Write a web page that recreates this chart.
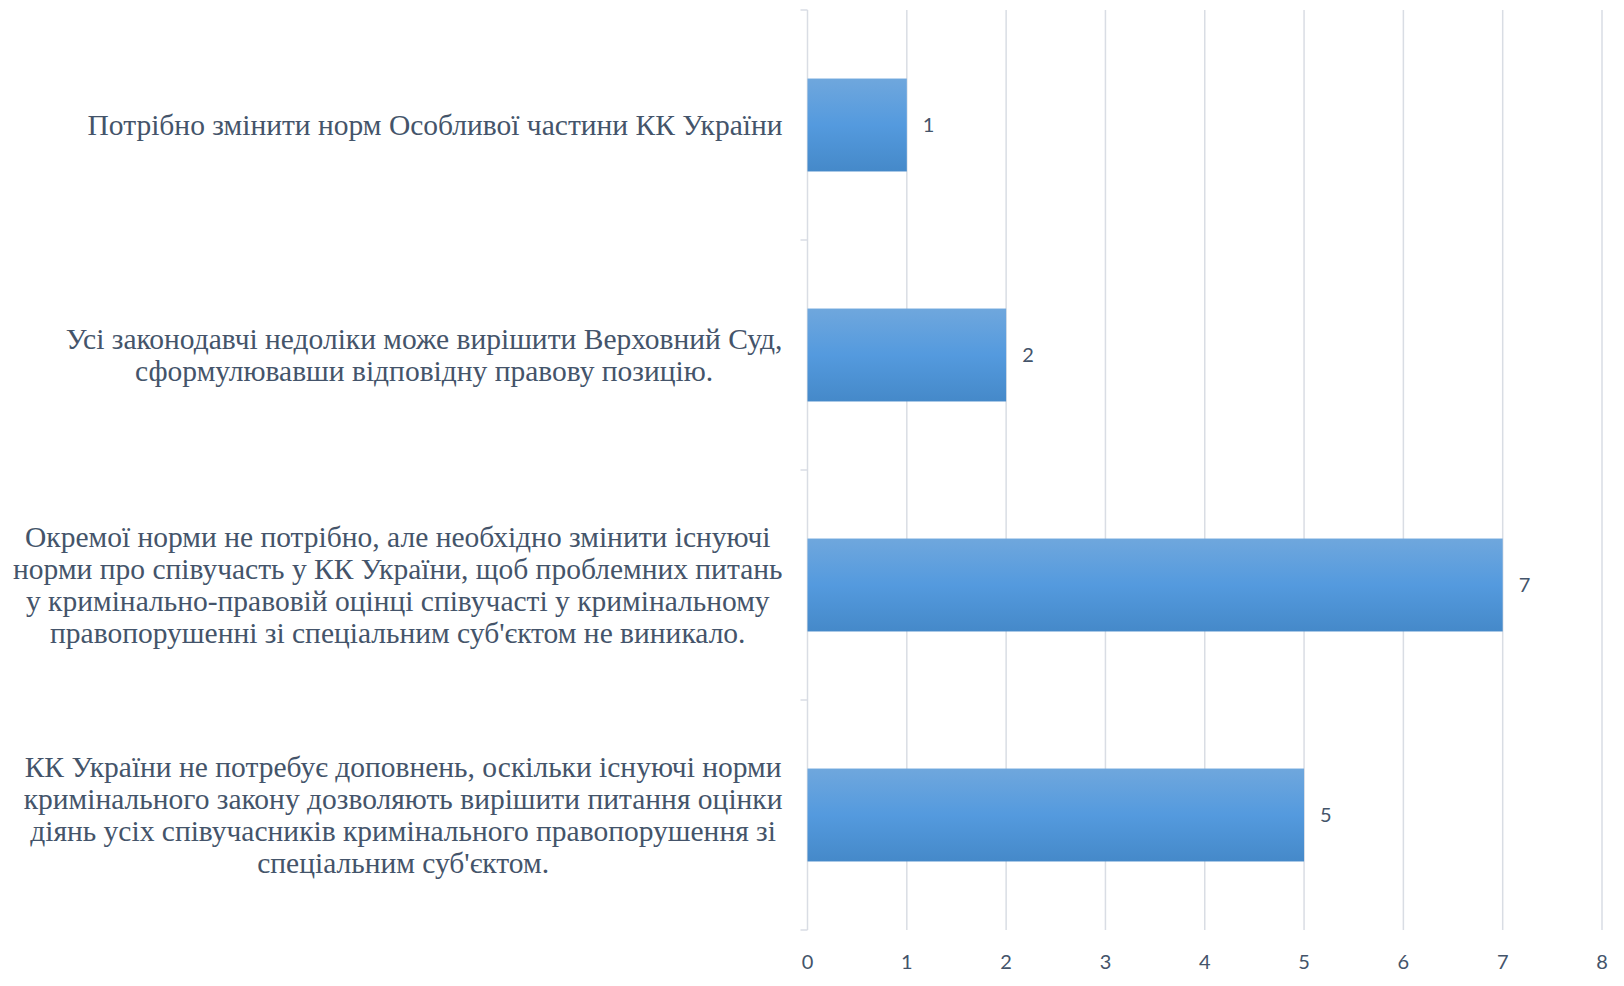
<!DOCTYPE html>
<meta charset="utf-8" />
<script src="https://d3js.org/d3.v7.js"></script>
<style>
  body { margin: 0; background: #fff; }
</style>
<div id="chart"></div>
<script>
  // categories, top to bottom, with the line breaks used in the picture
  const categories = [
    ["Потрібно змінити норм Особливої частини КК України"],
    ["Усі законодавчі недоліки може вирішити Верховний Суд,",
     "сформулювавши відповідну правову позицію."],
    ["Окремої норми не потрібно, але необхідно змінити існуючі",
     "норми про співучасть у КК України, щоб проблемних питань",
     "у кримінально-правовій оцінці співучасті у кримінальному",
     "правопорушенні зі спеціальним суб'єктом не виникало."],
    ["КК України не потребує доповнень, оскільки існуючі норми",
     "кримінального закону дозволяють вирішити питання оцінки",
     "діянь усіх співучасників кримінального правопорушення зі",
     "спеціальним суб'єктом."]
  ];
  const values = [1, 2, 7, 5];
  const xTicks = [0, 1, 2, 3, 4, 5, 6, 7, 8];

  const width = 1624;
  const height = 986;
  const margin = { top: 10, right: 22, bottom: 56, left: 807.5 };

  const svg = d3
    .select("#chart")
    .append("svg")
    .attr("width", width)
    .attr("height", height);

  // bar gradient, lighter at the top
  const grad = svg
    .append("defs")
    .append("linearGradient")
    .attr("id", "barGrad")
    .attr("x1", 0).attr("y1", 0)
    .attr("x2", 0).attr("y2", 1);
  grad.append("stop").attr("offset", "0%").attr("stop-color", "#6fa7dd");
  grad.append("stop").attr("offset", "50%").attr("stop-color", "#549ade");
  grad.append("stop").attr("offset", "100%").attr("stop-color", "#4589c9");

  const x = d3
    .scaleLinear()
    .domain([0, 8])
    .range([margin.left, width - margin.right]);

  const y = d3
    .scaleBand()
    .domain(d3.range(categories.length))
    .range([margin.top, height - margin.bottom])
    .paddingInner(0.596)
    .paddingOuter(0.298);

  const yTicks = d3
    .scaleBand()
    .domain(d3.range(categories.length))
    .range([margin.top, height - margin.bottom]);

  const gridColor = "#d9dde4";
  const textColor = "#44546a";

  // vertical gridlines
  svg
    .append("g")
    .selectAll("line")
    .data(xTicks)
    .join("line")
    .attr("x1", (d) => x(d))
    .attr("x2", (d) => x(d))
    .attr("y1", margin.top)
    .attr("y2", height - margin.bottom)
    .attr("stroke", gridColor)
    .attr("stroke-width", 1.5);

  // category axis tick marks
  const tickPos = d3.range(categories.length).map((i) => yTicks(i));
  tickPos.push(height - margin.bottom);
  svg
    .append("g")
    .selectAll("line")
    .data(tickPos)
    .join("line")
    .attr("x1", margin.left - 7)
    .attr("x2", margin.left)
    .attr("y1", (d) => d)
    .attr("y2", (d) => d)
    .attr("stroke", gridColor)
    .attr("stroke-width", 1.5);

  // bars
  svg
    .append("g")
    .selectAll("rect")
    .data(values)
    .join("rect")
    .attr("x", x(0))
    .attr("y", (d, i) => y(i))
    .attr("width", (d) => x(d) - x(0))
    .attr("height", y.bandwidth())
    .attr("fill", "url(#barGrad)");

  // data labels
  svg
    .append("g")
    .selectAll("text")
    .data(values)
    .join("text")
    .attr("x", (d) => x(d) + 16)
    .attr("y", (d, i) => y(i) + y.bandwidth() / 2)
    .attr("dy", "0.35em")
    .style("font-family", "Lato, 'Open Sans', sans-serif")
    .style("font-size", "20px")
    .style("fill", textColor)
    .text((d) => d);

  // x tick labels
  svg
    .append("g")
    .selectAll("text")
    .data(xTicks)
    .join("text")
    .attr("x", (d) => x(d))
    .attr("y", height - margin.bottom + 32)
    .attr("dy", "0.35em")
    .attr("text-anchor", "middle")
    .style("font-family", "Lato, 'Open Sans', sans-serif")
    .style("font-size", "20px")
    .style("fill", textColor)
    .text((d) => d);

  // category labels: block right-aligned to the axis, lines centred in the block
  const labelRight = margin.left - 25;
  const lineH = 32;
  categories.forEach((lines, i) => {
    const g = svg.append("g");
    const texts = g
      .selectAll("text")
      .data(lines)
      .join("text")
      .attr("text-anchor", "middle")
      .style("font-family", "'Liberation Serif', 'Times New Roman', serif")
      .style("font-size", "29.5px")
      .style("fill", textColor)
      .text((d) => d);
    let maxW = 0;
    texts.each(function () {
      maxW = Math.max(maxW, this.getComputedTextLength());
    });
    const cy = yTicks(i) + yTicks.bandwidth() / 2;
    const y0 = cy - ((lines.length - 1) * lineH) / 2;
    texts
      .attr("x", labelRight - maxW / 2)
      .attr("y", (d, j) => y0 + j * lineH)
      .attr("dy", "0.35em");
  });
</script>
